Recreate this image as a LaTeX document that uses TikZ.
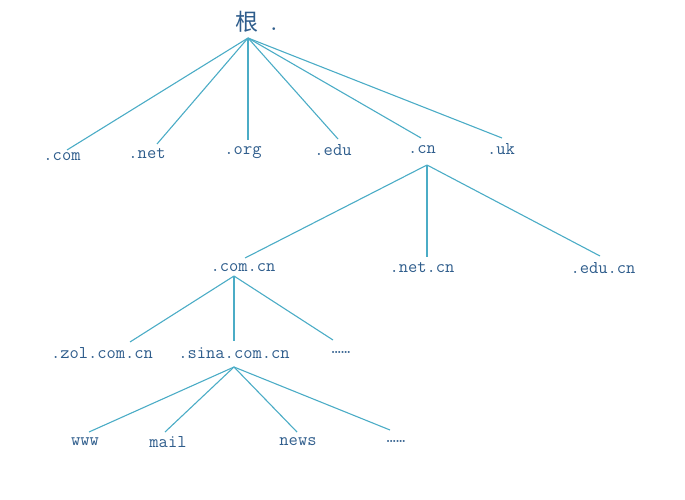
\documentclass[tikz,border=0pt]{standalone}
\usepackage{fontspec}
\newfontfamily\cjk{Noto Sans CJK SC}
\definecolor{txt}{HTML}{2F5D8C}
\definecolor{ln}{HTML}{4BACC6}
\begin{document}
\begin{tikzpicture}[x=1pt,y=-1pt,
  lbl/.style={inner sep=0pt,text=txt,font=\ttfamily\fontsize{18}{18}\selectfont},
  conn/.style={draw=ln,line width=1.1pt}]
\useasboundingbox (0,0) rectangle (685,500);
% nodes
\node[inner sep=0pt,text=txt,anchor=west] (root) at (235,22) {{\cjk\fontsize{23}{23}\selectfont 根}{\ttfamily\bfseries\fontsize{20}{20}\selectfont\ .}};
\node[lbl] (com) at (62,157) {.com};
\node[lbl] (net) at (147,154) {.net};
\node[lbl] (org) at (243,153) {.org};
\node[lbl] (edu) at (333,150) {.edu};
\node[lbl] (cn) at (422,150) {.cn};
\node[lbl] (uk) at (501,149) {.uk};
\node[lbl] (comcn) at (243,268) {.com.cn};
\node[lbl] (netcn) at (422,268) {.net.cn};
\node[lbl] (educn) at (603,268) {.edu.cn};
\node[lbl] (zol) at (102,353) {.zol.com.cn};
\node[lbl] (sina) at (234,353) {.sina.com.cn};
\node[lbl] (dots1) at (341,352) {……};
\node[lbl] (www) at (85,442) {www};
\node[lbl] (mail) at (168,442) {mail};
\node[lbl] (news) at (298,442) {news};
\node[lbl] (dots2) at (396,441) {……};
% connector end points
\coordinate (rootb) at (248,38);
\coordinate (comt) at (67,150);
\coordinate (nett) at (157,144);
\coordinate (orgt) at (248,140);
\coordinate (edut) at (338,139);
\coordinate (cnt) at (421,138);
\coordinate (ukt) at (502,138);
\coordinate (cnb) at (427,165);
\coordinate (comcnt) at (245,258);
\coordinate (netcnt) at (427,257);
\coordinate (educnt) at (600,256);
\coordinate (comcnb) at (234,276);
\coordinate (zolt) at (130,342);
\coordinate (sinat) at (234,341);
\coordinate (dots1t) at (333,340);
\coordinate (sinab) at (234,367);
\coordinate (wwwt) at (89,432);
\coordinate (mailt) at (165,432);
\coordinate (newst) at (297,432);
\coordinate (dots2t) at (390,430);
% connectors
\foreach \t in {comt,nett,orgt,edut,cnt,ukt} \draw[conn] (rootb) -- (\t);
\foreach \t in {comcnt,netcnt,educnt} \draw[conn] (cnb) -- (\t);
\foreach \t in {zolt,sinat,dots1t} \draw[conn] (comcnb) -- (\t);
\foreach \t in {wwwt,mailt,newst,dots2t} \draw[conn] (sinab) -- (\t);
\end{tikzpicture}
\end{document}
